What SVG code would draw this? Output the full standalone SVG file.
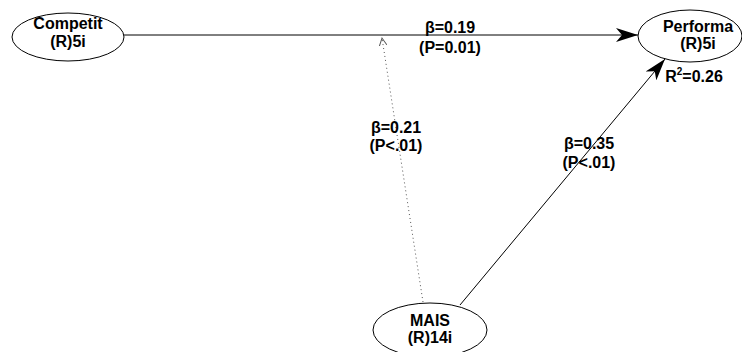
<svg xmlns="http://www.w3.org/2000/svg" width="742" height="352" viewBox="0 0 742 352">
<style>
.node{fill:#fff;stroke:#000;stroke-width:1}
.t{font-family:"Liberation Sans",Arial,sans-serif;font-weight:bold;font-size:16px;fill:#000;text-anchor:middle}
.e{stroke:#000;stroke-width:1;fill:none}
.dot{stroke:#555;stroke-width:1;stroke-dasharray:1 3;fill:none}
</style>
<defs>
<marker id="ah" markerWidth="24" markerHeight="14" refX="22" refY="7" orient="auto" markerUnits="userSpaceOnUse">
<path d="M0,0 L22,7 L0,14 L6,7 Z" fill="#000"/>
</marker>
<marker id="ahs" markerWidth="10" markerHeight="8" refX="8" refY="4" orient="auto" markerUnits="userSpaceOnUse">
<path d="M0,0 L8,4 L0,8" fill="none" stroke="#555" stroke-width="1"/>
</marker>
</defs>
<rect width="742" height="352" fill="#fff"/>
<g id="connectors">
<line class="e" x1="124" y1="35" x2="638" y2="35" marker-end="url(#ah)"/>
<line class="e" x1="460" y1="305" x2="665" y2="59" marker-end="url(#ah)"/>
<line class="dot" x1="423" y1="302" x2="382" y2="38" marker-end="url(#ahs)"/>
<text class="t" x="450" y="33">β=0.19</text>
<text class="t" x="450" y="53">(P=0.01)</text>
<text class="t" x="396" y="133">β=0.21</text>
<text class="t" x="396" y="151">(P&lt;.01)</text>
<text class="t" x="589" y="149">β=0.35</text>
<text class="t" x="589" y="168">(P&lt;.01)</text>
</g>
<g id="competit">
<ellipse class="node" cx="68" cy="37" rx="56" ry="24"/>
<text class="t" x="68" y="29">Competit</text>
<text class="t" x="68" y="47">(R)5i</text>
</g>
<g id="performa">
<ellipse class="node" cx="690" cy="36" rx="52" ry="26"/>
<text class="t" x="698" y="32">Performa</text>
<text class="t" x="698" y="49">(R)5i</text>
<text class="t" x="694" y="82">R<tspan font-size="10" dy="-7">2</tspan><tspan dy="7">=0.26</tspan></text>
</g>
<g id="mais">
<ellipse class="node" cx="430" cy="330" rx="57" ry="27"/>
<text class="t" x="430" y="326">MAIS</text>
<text class="t" x="430" y="343">(R)14i</text>
</g>
</svg>
